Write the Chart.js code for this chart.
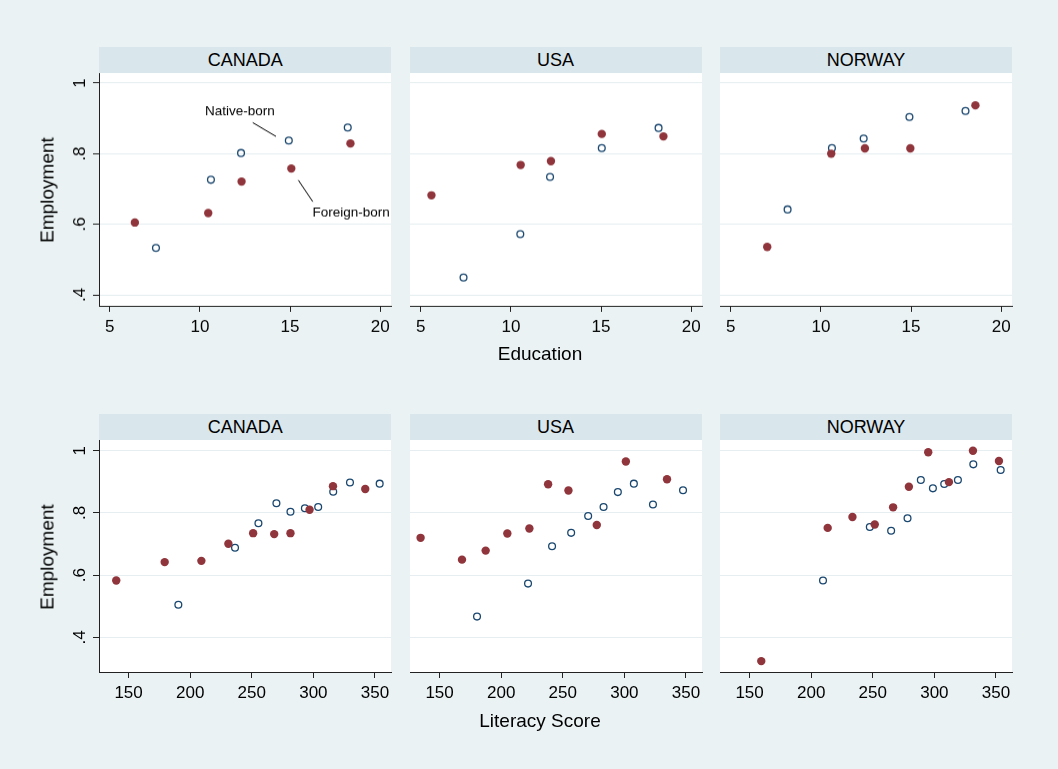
<!DOCTYPE html>
<html>
<head>
<meta charset="utf-8">
<script src="https://cdn.jsdelivr.net/npm/chart.js@4.4.1/dist/chart.umd.min.js"></script>
<style>
    body { margin: 0; background: #EAF2F3; }
    #lienzo { position: relative; width: 1058px; height: 769px; background: #EAF2F3; overflow: hidden;
              font-family: 'Liberation Sans', Arial, sans-serif; color: #000; }
    .franja { position: absolute; height: 26px; line-height: 26px; background: #D9E6EB; text-align: center; font-size: 18px; }
    .titulo_x { position: absolute; font-size: 19px; line-height: 1; white-space: nowrap; transform: translate(-50%, -50%); }
    .titulo_y { position: absolute; font-size: 19px; line-height: 1; white-space: nowrap; transform: translate(-50%, -50%) rotate(-90deg); }
    canvas { position: absolute; }
</style>
</head>
<body>
<div id="lienzo"></div>
<script>
/* ==========================================================================
   DATOS
   ========================================================================== */
const paises = ['CANADA', 'USA', 'NORWAY'];

const ticksEducacion = [5, 10, 15, 20];
const ticksLiteracia = [150, 200, 250, 300, 350];
const ticksEmpleo = [0.4, 0.6, 0.8, 1];

// Fila superior: educación
const eduNativosCanada = [7.56, 10.61, 12.28, 14.93, 18.20];
const empNativosCanada = [0.533, 0.726, 0.802, 0.837, 0.874];
const eduExtranjerosCanada = [6.39, 10.46, 12.31, 15.07, 18.35];
const empExtranjerosCanada = [0.605, 0.632, 0.721, 0.758, 0.829];

const eduNativosUsa = [7.37, 10.52, 12.17, 15.04, 18.19];
const empNativosUsa = [0.449, 0.572, 0.734, 0.816, 0.873];
const eduExtranjerosUsa = [5.59, 10.54, 12.22, 15.04, 18.46];
const empExtranjerosUsa = [0.682, 0.768, 0.779, 0.856, 0.849];

const eduNativosNoruega = [8.15, 10.61, 12.37, 14.91, 18.02];
const empNativosNoruega = [0.642, 0.816, 0.843, 0.904, 0.921];
const eduExtranjerosNoruega = [7.02, 10.57, 12.44, 14.96, 18.57];
const empExtranjerosNoruega = [0.536, 0.800, 0.815, 0.815, 0.937];

// Fila inferior: literacia
const litNativosCanada = [190.4, 236.4, 255.4, 270.0, 281.4, 293.1, 303.9, 316.1, 329.7, 353.8];
const empLitNativosCanada = [0.505, 0.688, 0.767, 0.831, 0.804, 0.815, 0.819, 0.868, 0.898, 0.894];
const litExtranjerosCanada = [140.0, 179.3, 209.1, 231.0, 251.1, 268.2, 281.4, 296.9, 315.9, 342.1];
const empLitExtranjerosCanada = [0.583, 0.642, 0.646, 0.701, 0.735, 0.732, 0.735, 0.810, 0.886, 0.877];

const litNativosUsa = [180.4, 221.8, 241.3, 256.8, 270.6, 283.1, 294.7, 307.7, 323.2, 347.6];
const empLitNativosUsa = [0.467, 0.573, 0.693, 0.736, 0.790, 0.819, 0.867, 0.894, 0.827, 0.873];
const litExtranjerosUsa = [134.6, 168.2, 187.4, 205.0, 222.9, 238.1, 254.6, 277.6, 301.2, 334.6];
const empLitExtranjerosUsa = [0.720, 0.650, 0.679, 0.734, 0.750, 0.892, 0.872, 0.761, 0.965, 0.908];

const litNativosNoruega = [209.6, 247.6, 264.9, 278.2, 289.0, 298.8, 308.0, 319.1, 331.6, 353.8];
const empLitNativosNoruega = [0.583, 0.755, 0.743, 0.783, 0.906, 0.879, 0.893, 0.906, 0.956, 0.938];
const litExtranjerosNoruega = [159.5, 213.4, 233.5, 251.6, 266.5, 279.3, 295.0, 311.8, 331.3, 352.4];
const empLitExtranjerosNoruega = [0.324, 0.752, 0.787, 0.763, 0.818, 0.884, 0.995, 0.899, 1.000, 0.967];

// Etiquetas del panel Canadá (coordenadas de datos)
const etiquetas = [
    { texto: 'Native-born', x: 10.28, y: 0.920, linea: [12.93, 0.888, 14.22, 0.849] },
    { texto: 'Foreign-born', x: 16.24, y: 0.633, linea: [15.46, 0.725, 16.26, 0.664] }
];

/* ==========================================================================
   GEOMETRÍA Y ESTILO
   ========================================================================== */
const COLOR_NATIVO = '#1A476F';
const COLOR_EXTRANJERO = '#90353B';
const FUENTE = "'Liberation Sans', Arial, sans-serif";

const izquierdasPanel = [99.3, 409.5, 720];
const ANCHO_PLOT = 292;
const MARGEN_SUP = 20;
const ALTO_EJE_X = 45;

const filas = [
    { franja: 47.3, arriba: 73.3, alto: 232.4, xMin: 4.4, xMax: 20.6, yMin: 0.3688, yMax: 1.0284, ticks: ticksEducacion,
      titulo: 'Education', tituloY: 353, empleoY: 190,
      datos: [[eduNativosCanada, empNativosCanada, eduExtranjerosCanada, empExtranjerosCanada],
              [eduNativosUsa, empNativosUsa, eduExtranjerosUsa, empExtranjerosUsa],
              [eduNativosNoruega, empNativosNoruega, eduExtranjerosNoruega, empExtranjerosNoruega]] },
    { franja: 414, arriba: 440, alto: 232.3, xMin: 126, xMax: 363, yMin: 0.289, yMax: 1.0343, ticks: ticksLiteracia,
      titulo: 'Literacy Score', tituloY: 720, empleoY: 557,
      datos: [[litNativosCanada, empLitNativosCanada, litExtranjerosCanada, empLitExtranjerosCanada],
              [litNativosUsa, empLitNativosUsa, litExtranjerosUsa, empLitExtranjerosUsa],
              [litNativosNoruega, empLitNativosNoruega, litExtranjerosNoruega, empLitExtranjerosNoruega]] }
];

Chart.defaults.font.family = FUENTE;
Chart.defaults.font.size = 17;
Chart.defaults.color = '#000';

const lienzo = document.getElementById('lienzo');

function aPuntos(xs, ys) {
    return xs.map((x, i) => ({ x: x, y: ys[i] }));
}

function formatoEmpleo(valor) {
    return String(valor).replace(/^0\./, '.');
}

/* ==========================================================================
   PLUGINS
   ========================================================================== */
const fondoBlanco = {
    id: 'fondoBlanco',
    beforeDraw(chart) {
        const a = chart.chartArea;
        chart.ctx.save();
        chart.ctx.fillStyle = '#ffffff';
        chart.ctx.fillRect(a.left, a.top, a.right - a.left, a.bottom - a.top);
        chart.ctx.restore();
    }
};

const anotaciones = {
    id: 'anotaciones',
    afterDatasetsDraw(chart) {
        const ctx = chart.ctx;
        const sx = chart.scales.x;
        const sy = chart.scales.y;
        ctx.save();
        ctx.font = '13.5px ' + FUENTE;
        ctx.fillStyle = '#000';
        ctx.strokeStyle = '#000';
        ctx.lineWidth = 1;
        ctx.textAlign = 'left';
        ctx.textBaseline = 'middle';
        etiquetas.forEach(et => {
            ctx.fillText(et.texto, sx.getPixelForValue(et.x), sy.getPixelForValue(et.y));
            ctx.beginPath();
            ctx.moveTo(sx.getPixelForValue(et.linea[0]), sy.getPixelForValue(et.linea[1]));
            ctx.lineTo(sx.getPixelForValue(et.linea[2]), sy.getPixelForValue(et.linea[3]));
            ctx.stroke();
        });
        ctx.restore();
    }
};

/* ==========================================================================
   CONSTRUCCIÓN DE PANELES
   ========================================================================== */
function crearTexto(clase, texto, estilos) {
    const div = document.createElement('div');
    div.className = clase;
    div.textContent = texto;
    Object.assign(div.style, estilos);
    lienzo.appendChild(div);
}

filas.forEach((fila, f) => {
    paises.forEach((pais, c) => {
        const izquierdaPlot = izquierdasPanel[c];
        const conEjeY = c === 0;
        const margenIzq = conEjeY ? 70 : 14;
        const anchoEjeY = conEjeY ? 70 : 0;

        crearTexto('franja', pais, {
            left: izquierdaPlot + 'px', top: fila.franja + 'px', width: ANCHO_PLOT + 'px',
            height: (fila.arriba - fila.franja) + 'px', lineHeight: (fila.arriba - fila.franja) + 'px'
        });

        const canvas = document.createElement('canvas');
        const ancho = margenIzq + ANCHO_PLOT + 12;
        const alto = MARGEN_SUP + fila.alto + ALTO_EJE_X;
        canvas.width = ancho;
        canvas.height = alto;
        canvas.style.width = ancho + 'px';
        canvas.style.height = alto + 'px';
        canvas.style.left = (izquierdaPlot - margenIzq) + 'px';
        canvas.style.top = (fila.arriba - MARGEN_SUP) + 'px';
        lienzo.appendChild(canvas);

        const [xn, yn, xe, ye] = fila.datos[c];

        new Chart(canvas, {
            type: 'scatter',
            data: {
                datasets: [
                    { label: 'Foreign-born', data: aPuntos(xe, ye), pointStyle: 'circle', pointRadius: 4.2,
                      pointBackgroundColor: COLOR_EXTRANJERO, pointBorderColor: COLOR_EXTRANJERO, pointBorderWidth: 0 },
                    { label: 'Native-born', data: aPuntos(xn, yn), pointStyle: 'circle', pointRadius: 3.4,
                      pointBackgroundColor: 'rgba(0,0,0,0)', pointBorderColor: COLOR_NATIVO, pointBorderWidth: 1.3 }
                ]
            },
            options: {
                responsive: false,
                animation: false,
                events: [],
                layout: { padding: { left: margenIzq - anchoEjeY, top: MARGEN_SUP, right: 12, bottom: 0 } },
                plugins: { legend: { display: false }, tooltip: { enabled: false } },
                scales: {
                    x: {
                        type: 'linear', min: fila.xMin, max: fila.xMax,
                        afterBuildTicks: (eje) => { eje.ticks = fila.ticks.map(v => ({ value: v })); },
                        afterFit: (eje) => { eje.height = ALTO_EJE_X; },
                        grid: { drawOnChartArea: false, drawTicks: true, tickLength: 6, tickColor: '#222', color: '#222' },
                        border: { display: true, color: '#222', width: 1 },
                        ticks: { padding: 5, maxRotation: 0, autoSkip: false }
                    },
                    y: {
                        type: 'linear', min: fila.yMin, max: fila.yMax,
                        afterBuildTicks: (eje) => { eje.ticks = ticksEmpleo.map(v => ({ value: v })); },
                        afterFit: (eje) => { eje.width = anchoEjeY; },
                        grid: { color: '#E6EEF1', lineWidth: 1, drawTicks: conEjeY, tickLength: 6, tickColor: '#222' },
                        border: { display: conEjeY, color: '#222', width: 1 },
                        ticks: { display: conEjeY, padding: 6, minRotation: 90, maxRotation: 90, crossAlign: 'center',
                                 autoSkip: false, callback: formatoEmpleo }
                    }
                }
            },
            plugins: (f === 0 && c === 0) ? [fondoBlanco, anotaciones] : [fondoBlanco]
        });
    });

    crearTexto('titulo_x', fila.titulo, { left: '540px', top: fila.tituloY + 'px' });
    crearTexto('titulo_y', 'Employment', { left: '47px', top: fila.empleoY + 'px' });
});
</script>
</body>
</html>
